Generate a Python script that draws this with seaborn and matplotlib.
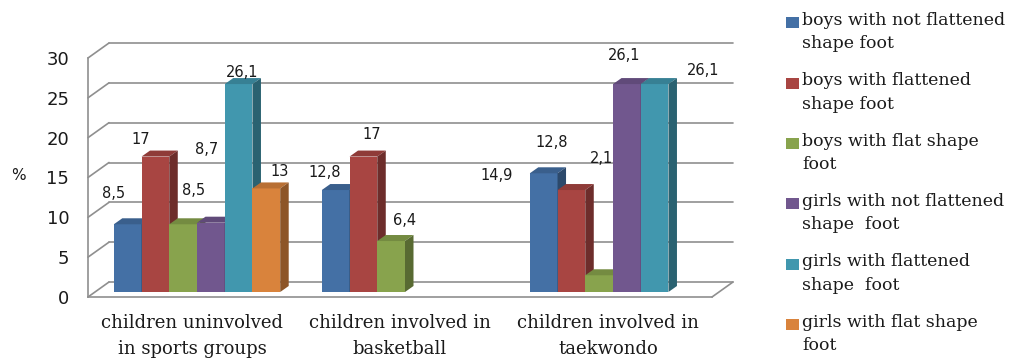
import numpy as np
import pandas as pd
import matplotlib
matplotlib.use("Agg")
import matplotlib.pyplot as plt
import seaborn as sns
from matplotlib.patches import Polygon, Rectangle
from matplotlib.transforms import IdentityTransform, ScaledTranslation
from matplotlib.legend_handler import HandlerPatch
from matplotlib.lines import Line2D

# ---------------- data ----------------
categories = ["children uninvolved\nin sports groups",
              "children involved in\nbasketball",
              "children involved in\ntaekwondo"]
series = ["boys with not flattened\nshape foot",
          "boys with flattened\nshape foot",
          "boys with flat shape\nfoot",
          "girls with not flattened\nshape  foot",
          "girls with flattened\nshape  foot",
          "girls with flat shape\nfoot"]
boys_not_flattened = [8.5, 12.8, 14.9]
boys_flattened = [17, 17, 12.8]
boys_flat = [8.5, 6.4, 2.1]
girls_not_flattened = [8.7, np.nan, 26.1]
girls_flattened = [26.1, np.nan, 26.1]
girls_flat = [13, np.nan, np.nan]
yticks = [0, 5, 10, 15, 20, 25, 30]

values = [boys_not_flattened, boys_flattened, boys_flat,
          girls_not_flattened, girls_flattened, girls_flat]

# ---------------- style ----------------
colors = ["#4470A5", "#A84542", "#88A34D", "#71578E", "#4197AE", "#D9833C"]
# value label nudges (display px, relative to bar top centre) per (series, category)
label_nudge = {(0, 0): (-14, 31), (1, 0): (-15, 17), (2, 0): (10, 34), (3, 0): (-4, 73),
               (4, 0): (4, 12), (5, 0): (13, 17),
               (0, 1): (-11, 18), (1, 1): (8, 22), (2, 1): (13, 21),
               (0, 2): (-47, -2), (1, 2): (-20, 48), (2, 2): (2, 117), (3, 2): (-3, 29),
               (4, 2): (49, 14)}
WALL = np.array([21.0, 15.0])     # back wall offset (px)
SHIFT = np.array([5.0, 5.0])      # bar plane offset (px)
DEPTH = np.array([8.5, 6.0])      # bar depth (px)
GRID = "#8f8f8f"
TXT = "#1a1a1a"

sns.set_style("white")
plt.rcParams["font.family"] = ["DejaVu Sans"]

rows = []
for s, vals in zip(series, values):
    for c, v in zip(categories, vals):
        rows.append({"category": c, "series": s, "value": v})
df = pd.DataFrame(rows)

fig = plt.figure(figsize=(10.18, 3.58), dpi=100)
ax = fig.add_axes([88 / 1018, 61 / 358, 624 / 1018, 239 / 358])
sns.barplot(data=df, x="category", y="value", hue="series", order=categories,
            hue_order=series, palette=colors, saturation=1, width=0.8,
            errorbar=None, legend=False, ax=ax)
ax.set_xlim(-0.5, 2.5)
ax.set_ylim(0, 30)
ax.set_xlabel("")

# ---------------- axes / walls ----------------
for sp in ["top", "right"]:
    ax.spines[sp].set_visible(False)
for sp in ["left", "bottom"]:
    ax.spines[sp].set_color(GRID)
    ax.spines[sp].set_linewidth(1.2)

ax.set_yticks(yticks)
ax.set_yticklabels([str(t) for t in yticks])
ax.tick_params(axis="y", length=6.5, width=1.2, color=GRID, pad=7,
               labelsize=13, labelcolor=TXT)
ax.set_xticks([-0.5, 0.5, 1.5, 2.5])
ax.set_xticklabels([])
ax.set_xticks([0, 1, 2], minor=True)
ax.set_xticklabels(categories, minor=True, fontfamily="DejaVu Serif",
                   fontsize=13, color=TXT, linespacing=1.6)
ax.tick_params(axis="x", which="major", length=6, width=1.2, color=GRID)
ax.tick_params(axis="x", which="minor", length=0, pad=12)
ax.set_ylabel("%", rotation=0, fontsize=11, color=TXT)
ax.yaxis.set_label_coords(-0.112, 0.477)

wall_tr = ax.transData + ScaledTranslation(WALL[0] / 100, WALL[1] / 100, fig.dpi_scale_trans)
for t in yticks:
    ax.plot([-0.5, 2.5], [t, t], color=GRID, lw=1.2, transform=wall_tr, zorder=0.5,
            clip_on=False)
    p0 = ax.transData.transform((-0.5, t))
    p1 = p0 + WALL
    ax.add_line(Line2D([p0[0], p1[0]], [p0[1], p1[1]], color=GRID, lw=1.2,
                       transform=IdentityTransform(), zorder=0.5, clip_on=False))
q0 = ax.transData.transform((2.5, 0))
q1 = q0 + WALL
ax.add_line(Line2D([q0[0], q1[0]], [q0[1], q1[1]], color=GRID, lw=1.2,
                   transform=IdentityTransform(), zorder=0.5, clip_on=False))

# ---------------- 3D bars ----------------
bar_tr = ax.transData + ScaledTranslation(SHIFT[0] / 100, SHIFT[1] / 100, fig.dpi_scale_trans)


def shade(c, f):
    r, g, b = matplotlib.colors.to_rgb(c)
    return (r * f, g * f, b * f)


for si, cont in enumerate(ax.containers):
    for bar in cont:
        h = bar.get_height()
        if not np.isfinite(h):
            bar.set_visible(False)
            continue
        x = bar.get_x()
        w = bar.get_width()
        ci = int(round(x + w / 2))
        z = 2 + (x + 1) * 2
        bar.set_transform(bar_tr)
        bar.set_zorder(z)
        bar.set_clip_on(False)
        bar.set_edgecolor("none")
        a = ax.transData.transform((x, 0)) + SHIFT
        b = ax.transData.transform((x + w, h)) + SHIFT
        top = [(a[0], b[1]), (b[0], b[1]), (b[0] + DEPTH[0], b[1] + DEPTH[1]),
               (a[0] + DEPTH[0], b[1] + DEPTH[1])]
        side = [(b[0], a[1]), (b[0] + DEPTH[0], a[1] + DEPTH[1]),
                (b[0] + DEPTH[0], b[1] + DEPTH[1]), (b[0], b[1])]
        ax.add_patch(Polygon(top, closed=True, facecolor=shade(colors[si], 0.85),
                             edgecolor="none", transform=IdentityTransform(),
                             zorder=z + 0.01, clip_on=False))
        ax.add_patch(Polygon(side, closed=True, facecolor=shade(colors[si], 0.65),
                             edgecolor="none", transform=IdentityTransform(),
                             zorder=z + 0.02, clip_on=False))
        dx, dy = label_nudge.get((si, ci), (0, 12))
        ax.annotate(f"{h:g}".replace(".", ","), xy=(x + w / 2, h), xycoords="data",
                    xytext=(SHIFT[0] + dx, SHIFT[1] + dy), textcoords="offset pixels",
                    ha="center", va="center", fontsize=10.5, color=TXT, zorder=50,
                    annotation_clip=False)

# ---------------- legend ----------------
LEG_FS = 12.5
LEG_LS = 1.49


def first_line_patch(legend, orig_handle, xdescent, ydescent, width, height, fontsize):
    return Rectangle((-xdescent, -ydescent + 7.0), width, height)


handles = [Rectangle((0, 0), 1, 1, facecolor=c, edgecolor="none") for c in colors]
leg = fig.legend(handles, series, loc="upper left",
                 bbox_to_anchor=(786 / 1018, 1 - 12 / 358), frameon=False,
                 prop={"family": "DejaVu Serif", "size": LEG_FS},
                 handlelength=0.75, handleheight=0.58, handletextpad=0.2,
                 labelspacing=1.15, borderpad=0, borderaxespad=0,
                 handler_map={Rectangle: HandlerPatch(patch_func=first_line_patch)})
for t in leg.get_texts():
    t.set_linespacing(LEG_LS)
    t.set_color(TXT)

fig.savefig("out.png", dpi=100, facecolor="white")
